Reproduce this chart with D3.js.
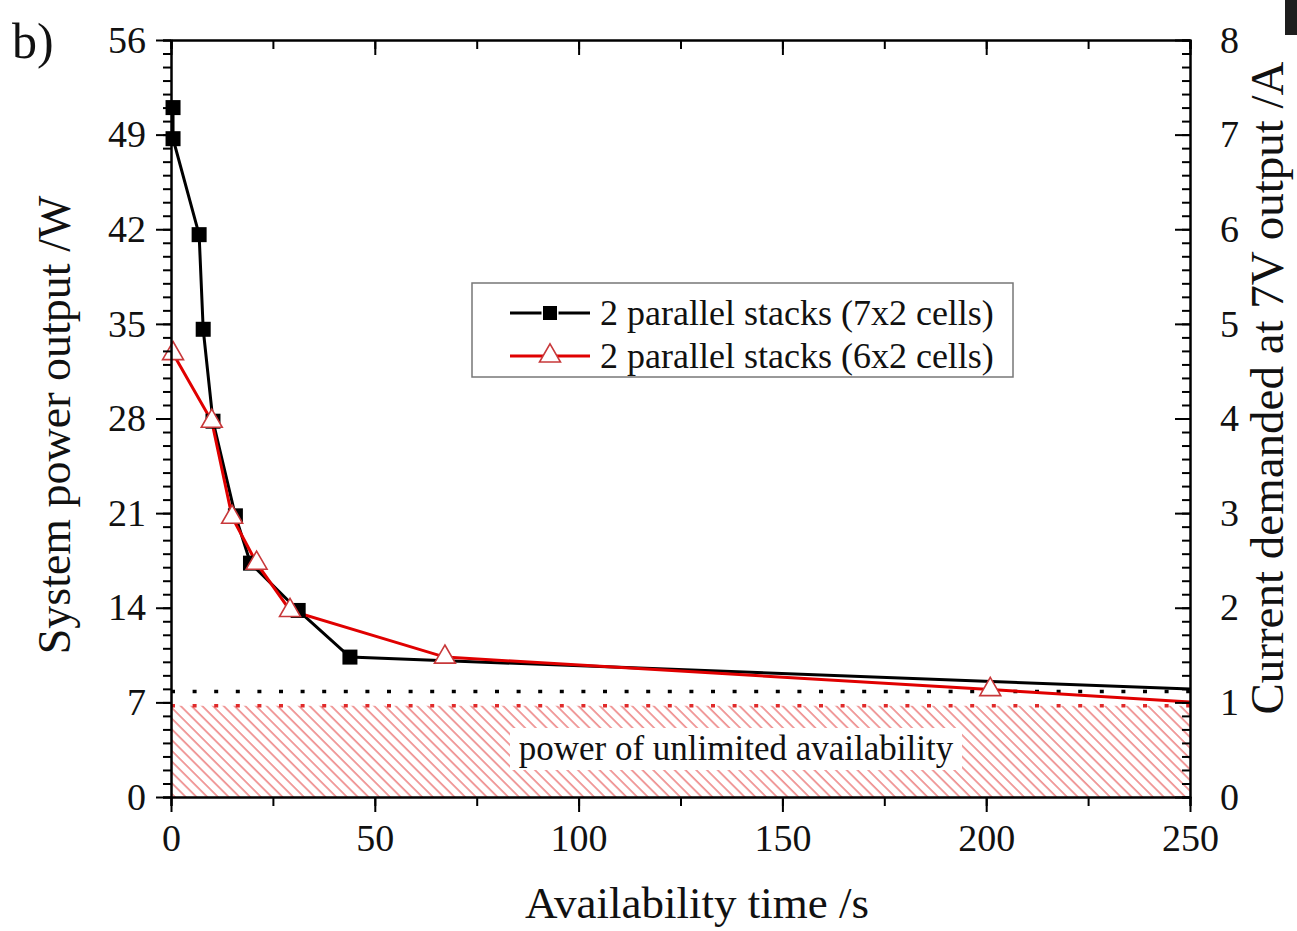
<!DOCTYPE html>
<meta charset="utf-8">
<head>
  <title>Power vs availability time</title>
  <style>
    body { margin: 0; background: #fff; }
    text { font-family: "Liberation Serif", "Times New Roman", serif; fill: #111; }
  </style>
</head>
<body>
<script src="https://cdn.jsdelivr.net/npm/d3@7"></script>
<div id="chart"></div>
<script>

  // 7x2 cells, black squares
  var timeA  = [0.5, 0.5, 6.9, 7.9, 10.3, 15.8, 19.5, 31.2, 43.9, 290];
  var powerA = [51.0, 48.7, 41.6, 34.6, 27.8, 20.8, 17.3, 13.8, 10.35, 7.53];

  // 6x2 cells, open red triangles
  var timeB  = [0.5, 10.0, 15.0, 21.0, 29.2, 67.2, 201, 290];
  var powerB = [32.8, 27.8, 20.7, 17.3, 13.8, 10.35, 7.95, 6.28];

  // unlimited availability levels
  var levelA = 7.8;
  var levelB = 6.75;

  var seriesNames = ['2 parallel stacks (7x2 cells)', '2 parallel stacks (6x2 cells)'];
  var xTicks = [0, 50, 100, 150, 200, 250];
  var yTicks = [0, 7, 14, 21, 28, 35, 42, 49, 56];
  var yRightTicks = [0, 1, 2, 3, 4, 5, 6, 7, 8];

  var width = 1297, height = 931;
  var x = d3.scaleLinear().domain([0, 250]).range([171, 1190]);
  var y = d3.scaleLinear().domain([0, 56]).range([797, 40]);
  var yR = d3.scaleLinear().domain([0, 8]).range([797, 40]);

  var svg = d3.select('#chart').append('svg')
    .attr('width', width).attr('height', height);

  var defs = svg.append('defs');
  defs.append('clipPath').attr('id', 'plot')
    .append('rect')
    .attr('x', x(0)).attr('y', y(56))
    .attr('width', x(250) - x(0)).attr('height', y(0) - y(56));

  var hatch = defs.append('pattern')
    .attr('id', 'hatch')
    .attr('patternUnits', 'userSpaceOnUse')
    .attr('width', 7.6).attr('height', 7.6)
    .attr('patternTransform', 'rotate(-45)');
  hatch.append('line')
    .attr('x1', 1).attr('y1', 0).attr('x2', 1).attr('y2', 7.6)
    .attr('stroke', '#e5504f').attr('stroke-width', 1.1);

  // hatched region + level lines
  svg.append('rect')
    .attr('x', x(0)).attr('y', y(levelB))
    .attr('width', x(250) - x(0)).attr('height', y(0) - y(levelB))
    .attr('fill', 'url(#hatch)');

  svg.append('line')
    .attr('x1', x(0)).attr('x2', x(250))
    .attr('y1', y(levelA)).attr('y2', y(levelA))
    .attr('stroke', '#000').attr('stroke-width', 3.5)
    .attr('stroke-dasharray', '4 17.6');
  svg.append('line')
    .attr('x1', x(0)).attr('x2', x(250))
    .attr('y1', y(levelB)).attr('y2', y(levelB))
    .attr('stroke', '#e02a2a').attr('stroke-width', 3.5)
    .attr('stroke-dasharray', '4 17.6');

  var noteW = 452, noteH = 42;
  svg.append('rect')
    .attr('x', 736 - noteW / 2).attr('y', 728)
    .attr('width', noteW).attr('height', noteH)
    .attr('fill', '#fff');
  svg.append('text')
    .attr('x', 736).attr('y', 760)
    .attr('text-anchor', 'middle')
    .style('font-size', '35px')
    .text('power of unlimited availability');

  // series
  var dataA = timeA.map(function(t, i) { return { t: t, p: powerA[i] }; });
  var dataB = timeB.map(function(t, i) { return { t: t, p: powerB[i] }; });

  var line = d3.line()
    .x(function(d) { return x(d.t); })
    .y(function(d) { return y(d.p); });

  var plot = svg.append('g').attr('clip-path', 'url(#plot)');

  plot.append('path').datum(dataA)
    .attr('d', line).attr('fill', 'none')
    .attr('stroke', '#000').attr('stroke-width', 3);

  svg.append('g').selectAll('rect')
    .data(dataA.filter(function(d) { return d.t <= 250; }))
    .enter().append('rect')
    .attr('x', function(d) { return x(d.t) - 7.5; })
    .attr('y', function(d) { return y(d.p) - 7.5; })
    .attr('width', 15).attr('height', 15)
    .attr('fill', '#000');

  plot.append('path').datum(dataB)
    .attr('d', line).attr('fill', 'none')
    .attr('stroke', '#e00000').attr('stroke-width', 3);

  var tri = d3.symbol().type(d3.symbolTriangle).size(190);
  svg.append('g').selectAll('path')
    .data(dataB.filter(function(d) { return d.t <= 250; }))
    .enter().append('path')
    .attr('d', tri)
    .attr('transform', function(d) { return 'translate(' + x(d.t) + ',' + y(d.p) + ')'; })
    .attr('fill', '#fff')
    .attr('stroke', '#c8383a').attr('stroke-width', 1.6);

  // axes
  function styleAxis(g) {
    g.select('.domain').attr('stroke', '#000').attr('stroke-width', 2);
    g.selectAll('.tick line').attr('stroke', '#000').attr('stroke-width', 2);
    g.selectAll('.tick text').style('font-size', '38px').attr('fill', '#111');
  }

  var minorX = d3.range(0, 251, 25);
  var minorY = d3.range(0, 57, 1);

  svg.append('g').attr('transform', 'translate(0,' + y(0) + ')')
    .call(d3.axisBottom(x).tickValues(minorX).tickSize(9).tickFormat(''))
    .call(styleAxis);
  svg.append('g').attr('transform', 'translate(0,' + y(0) + ')')
    .call(d3.axisBottom(x).tickValues(xTicks).tickSize(15).tickPadding(12).tickSizeOuter(0))
    .call(styleAxis);

  svg.append('g').attr('transform', 'translate(0,' + y(56) + ')')
    .call(d3.axisTop(x).tickValues(minorX).tickSize(-9).tickFormat(''))
    .call(styleAxis);
  svg.append('g').attr('transform', 'translate(0,' + y(56) + ')')
    .call(d3.axisTop(x).tickValues(xTicks).tickSize(-15).tickFormat('').tickSizeOuter(0))
    .call(styleAxis);

  svg.append('g').attr('transform', 'translate(' + x(0) + ',0)')
    .call(d3.axisLeft(y).tickValues(minorY).tickSize(8).tickFormat(''))
    .call(styleAxis);
  svg.append('g').attr('transform', 'translate(' + x(0) + ',0)')
    .call(d3.axisLeft(y).tickValues(yTicks).tickSize(15).tickPadding(10).tickSizeOuter(0))
    .call(styleAxis);

  svg.append('g').attr('transform', 'translate(' + x(250) + ',0)')
    .call(d3.axisRight(y).tickValues(minorY).tickSize(-8).tickFormat(''))
    .call(styleAxis);
  svg.append('g').attr('transform', 'translate(' + x(250) + ',0)')
    .call(d3.axisRight(yR).tickValues(yRightTicks).tickSize(-15).tickPadding(30).tickSizeOuter(0))
    .call(styleAxis);

  // titles
  svg.append('text')
    .attr('x', 697).attr('y', 918)
    .attr('text-anchor', 'middle').style('font-size', '45px')
    .text('Availability time /s');
  svg.append('text')
    .attr('transform', 'translate(70,425) rotate(-90)')
    .attr('text-anchor', 'middle').style('font-size', '46px')
    .text('System power output /W');
  svg.append('text')
    .attr('transform', 'translate(1283,388) rotate(-90)')
    .attr('text-anchor', 'middle').style('font-size', '47px')
    .text('Current demanded at 7V output /A');
  svg.append('text')
    .attr('x', 12).attr('y', 58)
    .style('font-size', '50px')
    .text('b)');

  // legend
  var legend = svg.append('g');
  legend.append('rect')
    .attr('x', 472).attr('y', 283).attr('width', 541).attr('height', 94)
    .attr('fill', '#fff').attr('stroke', '#777').attr('stroke-width', 1.5);

  var rows = [
    { name: seriesNames[0], color: '#000', cy: 313 },
    { name: seriesNames[1], color: '#e00000', cy: 356 }
  ];
  rows.forEach(function(r, i) {
    legend.append('line')
      .attr('x1', 510).attr('x2', 590).attr('y1', r.cy).attr('y2', r.cy)
      .attr('stroke', r.color).attr('stroke-width', 3);
    if (i === 0) {
      legend.append('rect')
        .attr('x', 543).attr('y', r.cy - 7).attr('width', 14).attr('height', 14)
        .attr('fill', '#000').attr('stroke', '#fff').attr('stroke-width', 3)
        .attr('paint-order', 'stroke');
    } else {
      legend.append('path')
        .attr('d', tri)
        .attr('transform', 'translate(550,' + r.cy + ')')
        .attr('fill', '#fff').attr('stroke', '#c8383a').attr('stroke-width', 1.6);
    }
    legend.append('text')
      .attr('x', 600).attr('y', r.cy + 12)
      .style('font-size', '36px')
      .text(r.name);
  });

  // dark corner fragment
  svg.append('rect')
    .attr('x', 1285).attr('y', 0).attr('width', 12).attr('height', 35)
    .attr('fill', '#1e1e1e');
</script>
</body>
